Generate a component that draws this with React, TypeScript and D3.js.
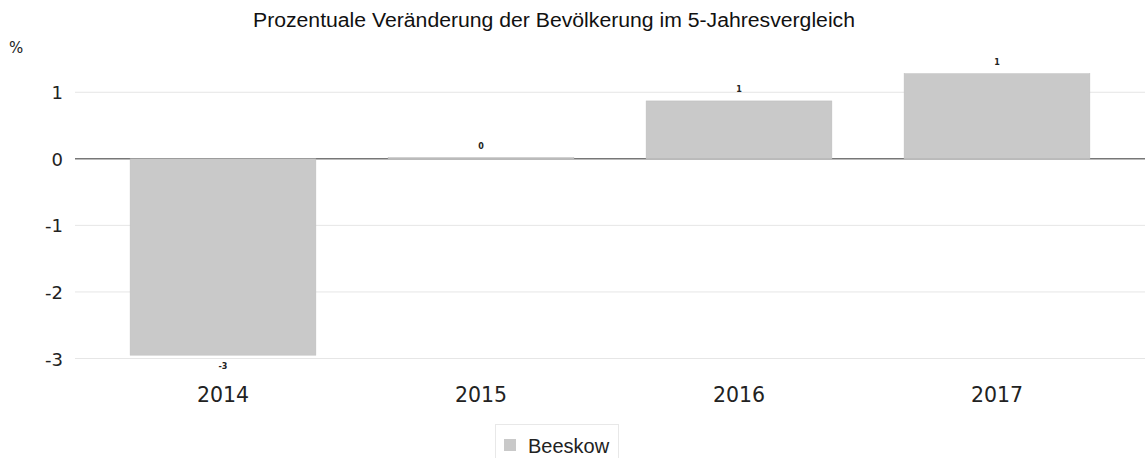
import React from "react";
import * as d3 from "d3";

const categories = ["2014", "2015", "2016", "2017"];
const values = [-2.95, 0.02, 0.87, 1.28];
const yTicks = [-3, -2, -1, 0, 1];
const seriesName = "Beeskow";
const title = "Prozentuale Veränderung der Bevölkerung im 5-Jahresvergleich";

export default function App() {
  const W = 1145, H = 458;
  const x = d3.scaleBand().domain(categories).range([94, 1126]).paddingInner(0.28).paddingOuter(0.14);
  const y = d3.scaleLinear().domain([-3, 1.5]).range([358.5, 59]);
  const gridX0 = 75, gridX1 = 1145;
  return (
    <svg width={W} height={H} style={{ position: "absolute", left: 0, top: 0, background: "#fff" }}>
      <text x={554} y={27} textAnchor="middle" fontFamily="Liberation Sans, Arial" fontSize={19.5} textLength={602} lengthAdjust="spacingAndGlyphs" fill="#111">{title}</text>
      <text x={9} y={53} fontFamily="DejaVu Sans" fontSize={15} fill="#222">%</text>
      {yTicks.map((t) => (
        <g key={t}>
          <line x1={gridX0} x2={gridX1} y1={y(t)} y2={y(t)} stroke={t === 0 ? "#777" : "#e6e6e6"} strokeWidth={t === 0 ? 1.5 : 1} />
          <text x={63} y={y(t) + 7} textAnchor="end" fontFamily="DejaVu Sans" fontSize={18} fill="#222">{t}</text>
        </g>
      ))}
      {categories.map((c, i) => {
        const v = values[i];
        const x0 = x(c)!;
        const top = Math.min(y(v), y(0));
        const h = Math.abs(y(v) - y(0));
        const cx = x0 + x.bandwidth() / 2;
        const lbl = Math.round(v);
        return (
          <g key={c}>
            <rect x={x0} y={top} width={x.bandwidth()} height={h} fill="#c9c9c9" stroke="#bdbdbd" strokeWidth={0.5} />
            <text x={cx} y={v >= 0 ? y(v) - 9 : y(v) + 14} textAnchor="middle" fontFamily="DejaVu Sans" fontSize={8} fontWeight="bold" fill="#222">{lbl}</text>
            <text x={cx} y={402} textAnchor="middle" fontFamily="DejaVu Sans" fontSize={20.5} fill="#222">{c}</text>
          </g>
        );
      })}
      <rect x={495.5} y={424.5} width={123} height={40} fill="#fff" stroke="#e8e8e8" />
      <rect x={504} y={439} width={12} height={12} fill="#c9c9c9" />
      <text x={528} y={453} fontFamily="Liberation Sans, Arial" fontSize={20} fill="#222">{seriesName}</text>
    </svg>
  );
}
